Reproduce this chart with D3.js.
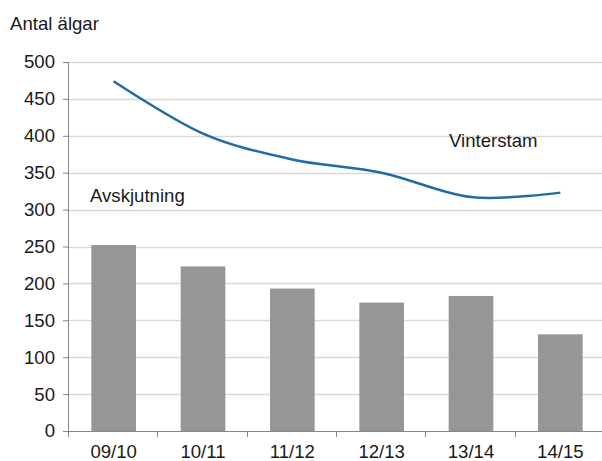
<!doctype html>
<html lang="sv">
<head>
<meta charset="utf-8">
<script src="https://cdn.jsdelivr.net/npm/d3@7"></script>
<style>
  body { margin: 0; background: #fff; }
  svg { display: block; font-family: "Liberation Sans", Arial, sans-serif; }
</style>
</head>
<body>
<svg></svg>
<script>
  var seasons = ["09/10", "10/11", "11/12", "12/13", "13/14", "14/15"];
  var avskjutning = [252, 223, 193, 174, 183, 131];
  var vinterstam = [474, 403, 368, 350, 317, 323];
  var yTicks = [0, 50, 100, 150, 200, 250, 300, 350, 400, 450, 500];

  var width = 602, height = 461;
  var plotLeft = 69, plotRight = 605, plotTop = 62, plotBottom = 431;
  var fontSize = "18.6px";

  var svg = d3.select("svg").attr("width", width).attr("height", height);

  var x = d3.scaleBand().domain(seasons).range([plotLeft, plotRight]).paddingInner(0.5).paddingOuter(0.25);
  var xTick = d3.scaleBand().domain(seasons).range([plotLeft, plotRight]);
  var y = d3.scaleLinear().domain([0, 500]).range([plotBottom, plotTop]);

  // gridlines
  svg.selectAll("line.grid")
    .data(yTicks.slice(1))
    .enter().append("line")
    .attr("class", "grid")
    .attr("x1", plotLeft).attr("x2", plotRight)
    .attr("y1", function (d) { return Math.round(y(d)) + 0.5; })
    .attr("y2", function (d) { return Math.round(y(d)) + 0.5; })
    .attr("stroke", "#d9d9d9").attr("stroke-width", 1.5);

  // bars
  svg.selectAll("rect")
    .data(avskjutning)
    .enter().append("rect")
    .attr("x", function (d, i) { return x(seasons[i]); })
    .attr("y", function (d) { return y(d); })
    .attr("width", x.bandwidth())
    .attr("height", function (d) { return plotBottom - y(d); })
    .attr("fill", "#969696");

  // line
  var line = d3.line()
    .x(function (d, i) { return xTick(seasons[i]) + xTick.bandwidth() / 2; })
    .y(function (d) { return y(d); })
    .curve(d3.curveCardinal.tension(0));

  svg.append("path")
    .datum(vinterstam)
    .attr("d", line)
    .attr("fill", "none")
    .attr("stroke", "#1f6ba3")
    .attr("stroke-width", 2.5);

  // y axis
  var yAxis = svg.append("g")
    .attr("transform", "translate(" + plotLeft + ",0)")
    .call(d3.axisLeft(y).tickValues(yTicks).tickSize(6).tickPadding(8));
  yAxis.select(".domain").attr("stroke", "#868686").attr("d", "M-0.5," + plotTop + "V" + plotBottom);
  yAxis.selectAll(".tick line").attr("stroke", "#868686");
  yAxis.selectAll("text").attr("font-size", fontSize).attr("fill", "#1a1a1a");

  // x axis
  var xAxis = svg.append("g")
    .attr("transform", "translate(0," + plotBottom + ")")
    .call(d3.axisBottom(xTick).tickSize(0).tickPadding(14));
  xAxis.select(".domain").attr("stroke", "#868686").attr("d", "M" + (plotLeft - 6) + ",0.5H" + plotRight);
  xAxis.selectAll("text").attr("font-size", fontSize).attr("fill", "#1a1a1a");

  // x tick marks at band edges
  svg.selectAll("line.xtick")
    .data(seasons.map(function (s) { return xTick(s); }).concat([plotRight]))
    .enter().append("line")
    .attr("class", "xtick")
    .attr("x1", function (d) { return Math.round(d) - 0.5; })
    .attr("x2", function (d) { return Math.round(d) - 0.5; })
    .attr("y1", plotBottom).attr("y2", plotBottom + 6)
    .attr("stroke", "#868686");

  // labels
  svg.append("text").attr("x", 10).attr("y", 30).attr("font-size", fontSize).attr("fill", "#1a1a1a").text("Antal älgar");
  svg.append("text").attr("x", 90).attr("y", 202).attr("font-size", fontSize).attr("fill", "#1a1a1a").text("Avskjutning");
  svg.append("text").attr("x", 449).attr("y", 147).attr("font-size", fontSize).attr("fill", "#1a1a1a").text("Vinterstam");
</script>
</body>
</html>
